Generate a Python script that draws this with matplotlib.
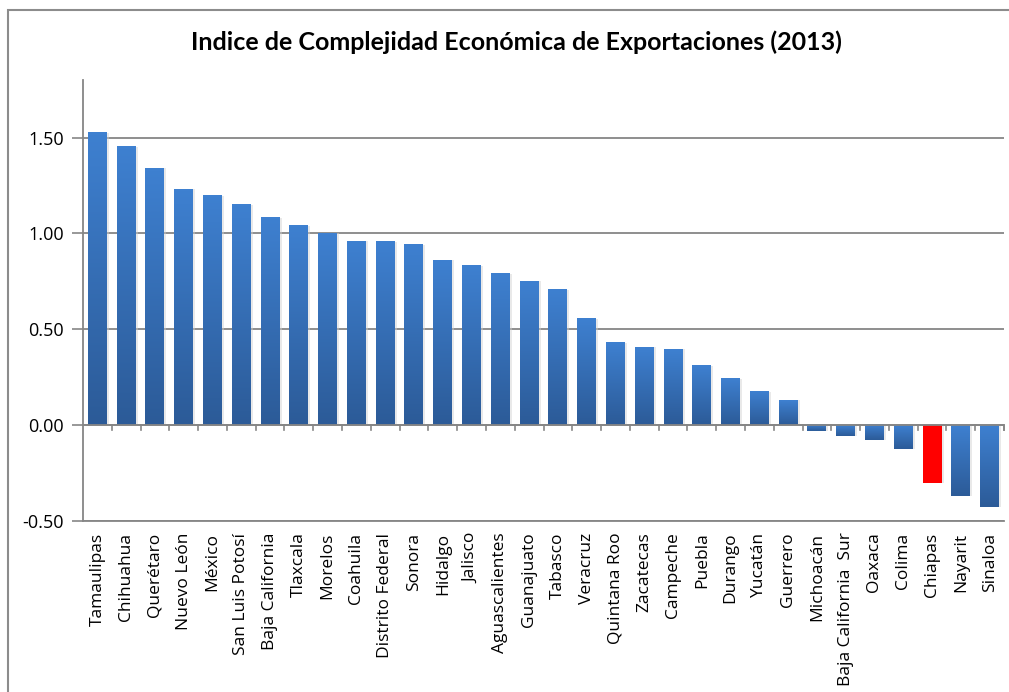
import matplotlib.pyplot as plt
import numpy as np
from matplotlib.colors import LinearSegmentedColormap
from matplotlib.patches import Rectangle

plt.rcParams['font.family'] = ['Open Sans', 'DejaVu Sans']

# Datos: indice de complejidad economica por estado
states = ['Tamaulipas', 'Chihuahua', 'Querétaro', 'Nuevo León', 'México',
          'San Luis Potosí', 'Baja California', 'Tlaxcala', 'Morelos',
          'Coahuila', 'Distrito Federal', 'Sonora', 'Hidalgo', 'Jalisco',
          'Aguascalientes', 'Guanajuato', 'Tabasco', 'Veracruz',
          'Quintana Roo', 'Zacatecas', 'Campeche', 'Puebla', 'Durango',
          'Yucatán', 'Guerrero', 'Michoacán', 'Baja California  Sur',
          'Oaxaca', 'Colima', 'Chiapas', 'Nayarit', 'Sinaloa']
ice = [1.526, 1.45, 1.34, 1.23, 1.195, 1.15, 1.08, 1.04, 1.00, 0.958,
       0.955, 0.94, 0.86, 0.83, 0.79, 0.75, 0.705, 0.555, 0.43, 0.405,
       0.395, 0.31, 0.24, 0.175, 0.13, -0.033, -0.057, -0.08, -0.125,
       -0.30, -0.37, -0.425]
highlight = 'Chiapas'
yticks = [-0.5, 0.0, 0.5, 1.0, 1.5]

fig = plt.figure(figsize=(10.09, 6.92), dpi=100)
ax = fig.add_axes([83/1009, 1 - 521/692, (1004 - 83)/1009, (521 - 80)/692])

# marco exterior del grafico
fig.patches.append(Rectangle((8/1009, -0.05), 1.05, 1 - 10/692 + 0.05,
                             transform=fig.transFigure, fill=False,
                             edgecolor='#8c8c8c', linewidth=1.5))

x = np.arange(len(states))
width = 0.66
grad_cmap = LinearSegmentedColormap.from_list('g', ['#2c5b98', '#3e80d0'])
grad = np.linspace(1, 0, 64).reshape(-1, 1)

# sombra ligera
ax.bar(x + 0.07, ice, width, color='#d0d0d0', alpha=0.45, zorder=2,
       bottom=0, linewidth=0)
bars = ax.bar(x, ice, width, color='none', zorder=3, linewidth=0)

for name, b in zip(states, bars):
    x0 = b.get_x()
    x1 = x0 + b.get_width()
    y0 = b.get_y()
    y1 = y0 + b.get_height()
    top, bottom = max(y0, y1), min(y0, y1)
    if name == highlight:
        ax.add_patch(Rectangle((x0, bottom), x1 - x0, top - bottom,
                               color='#ff0000', zorder=4, linewidth=0))
    else:
        ax.imshow(grad, cmap=grad_cmap, aspect='auto', origin='upper',
                  extent=[x0, x1, bottom, top], zorder=4,
                  interpolation='bicubic')

ax.set_xlim(-0.5, len(states) - 0.5)
ax.set_ylim(-0.5, 1.8)

ax.set_yticks(yticks)
ax.set_yticklabels(['%.2f' % v for v in yticks], fontsize=13)
ax.tick_params(axis='y', length=8, width=1.2, color='#868686', pad=6)
ax.yaxis.grid(True, color='#868686', linewidth=1.3, zorder=1)
ax.set_axisbelow(True)

ax.set_xticks(x)
ax.set_xticklabels([])
ax.tick_params(axis='x', length=0)

# eje de categorias en cero con marcas entre categorias
ax.axhline(0, color='#868686', linewidth=1.3, zorder=5)
for xb in np.arange(0.5, len(states), 1.0):
    ax.plot([xb, xb], [0, -0.025], color='#868686', linewidth=1.2,
            zorder=5, clip_on=False)
ax.plot([len(states) - 0.5] * 2, [0, -0.025], color='#868686',
        linewidth=1.2, zorder=5, clip_on=False)

for xi, name in zip(x, states):
    ax.text(xi, -0.56, name, rotation=90, ha='center', va='top',
            fontsize=12.5, transform=ax.transData, clip_on=False)

for side in ['top', 'right']:
    ax.spines[side].set_visible(False)
ax.spines['left'].set_color('#868686')
ax.spines['left'].set_linewidth(1.3)
ax.spines['bottom'].set_color('#868686')
ax.spines['bottom'].set_linewidth(1.3)

fig.text(516/1009, 1 - 42/692, 'Indice de Complejidad Económica de Exportaciones (2013)',
         ha='center', va='center', fontsize=18, fontweight='bold',
         family=['Lato', 'DejaVu Sans'])

fig.savefig('out.png', dpi=100)
